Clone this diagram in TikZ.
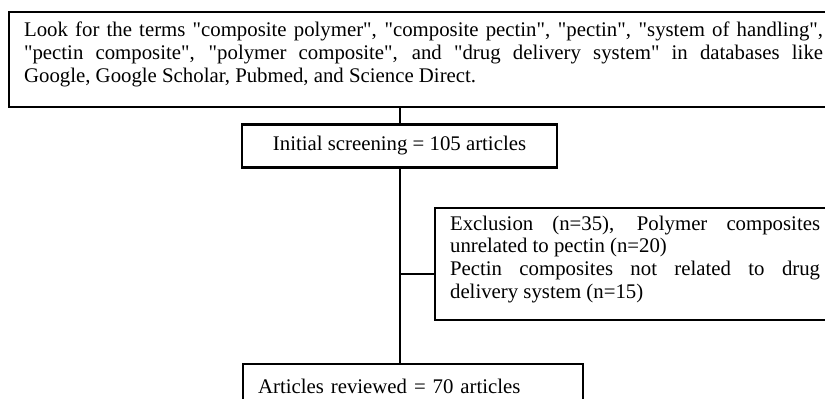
\documentclass[tikz,border=0pt]{standalone}
\usepackage{fontspec}
\setmainfont{Liberation Serif}[Ligatures=TeXOff]
\usetikzlibrary{calc}

\tikzset{
  stage/.style={draw=black,line width=1.1pt,inner xsep=7.5pt,inner ysep=0pt,font=\fontsize{10.4}{11.4}\selectfont},
  link/.style={draw=black,line width=1pt}
}

\begin{document}
\begin{tikzpicture}[x=0.5pt,y=-0.5pt]
\useasboundingbox (0,0) rectangle (825,398);
\node[stage,anchor=north west] (search) at (8,10.5)
  {\parbox[c][47.5pt][t]{399.5pt}{\rule{0pt}{12.5pt}Look for the terms "composite polymer", "composite pectin", "pectin", "system of handling",\linebreak "pectin composite", "polymer composite", and "drug delivery system" in databases like\linebreak Google, Google Scholar, Pubmed, and Science Direct.}};
\node[stage,minimum width=157.5pt,minimum height=21.5pt] (screen) at (399.5,146)
  {Initial screening = 105 articles};
\node[stage,anchor=north west] (exclude) at (434,207)
  {\parbox[c][56pt][t]{185pt}{\rule{0pt}{11pt}Exclusion (n=35), Polymer composites\linebreak unrelated to pectin (n=20)\\ Pectin composites not related to drug\linebreak delivery system (n=15)}};
\node[stage,anchor=north west,text width=155pt,align=left,minimum height=22pt] (review) at (242,363)
  {Articles reviewed = 70 articles};
\coordinate (branch) at (400.5,274);
\draw[link] (search.south -| screen.north) -- (screen.north);
\draw[link] (screen.south) -- (screen.south |- review.north);
\draw[link] (branch) -- (branch -| exclude.west);
\end{tikzpicture}
\end{document}
